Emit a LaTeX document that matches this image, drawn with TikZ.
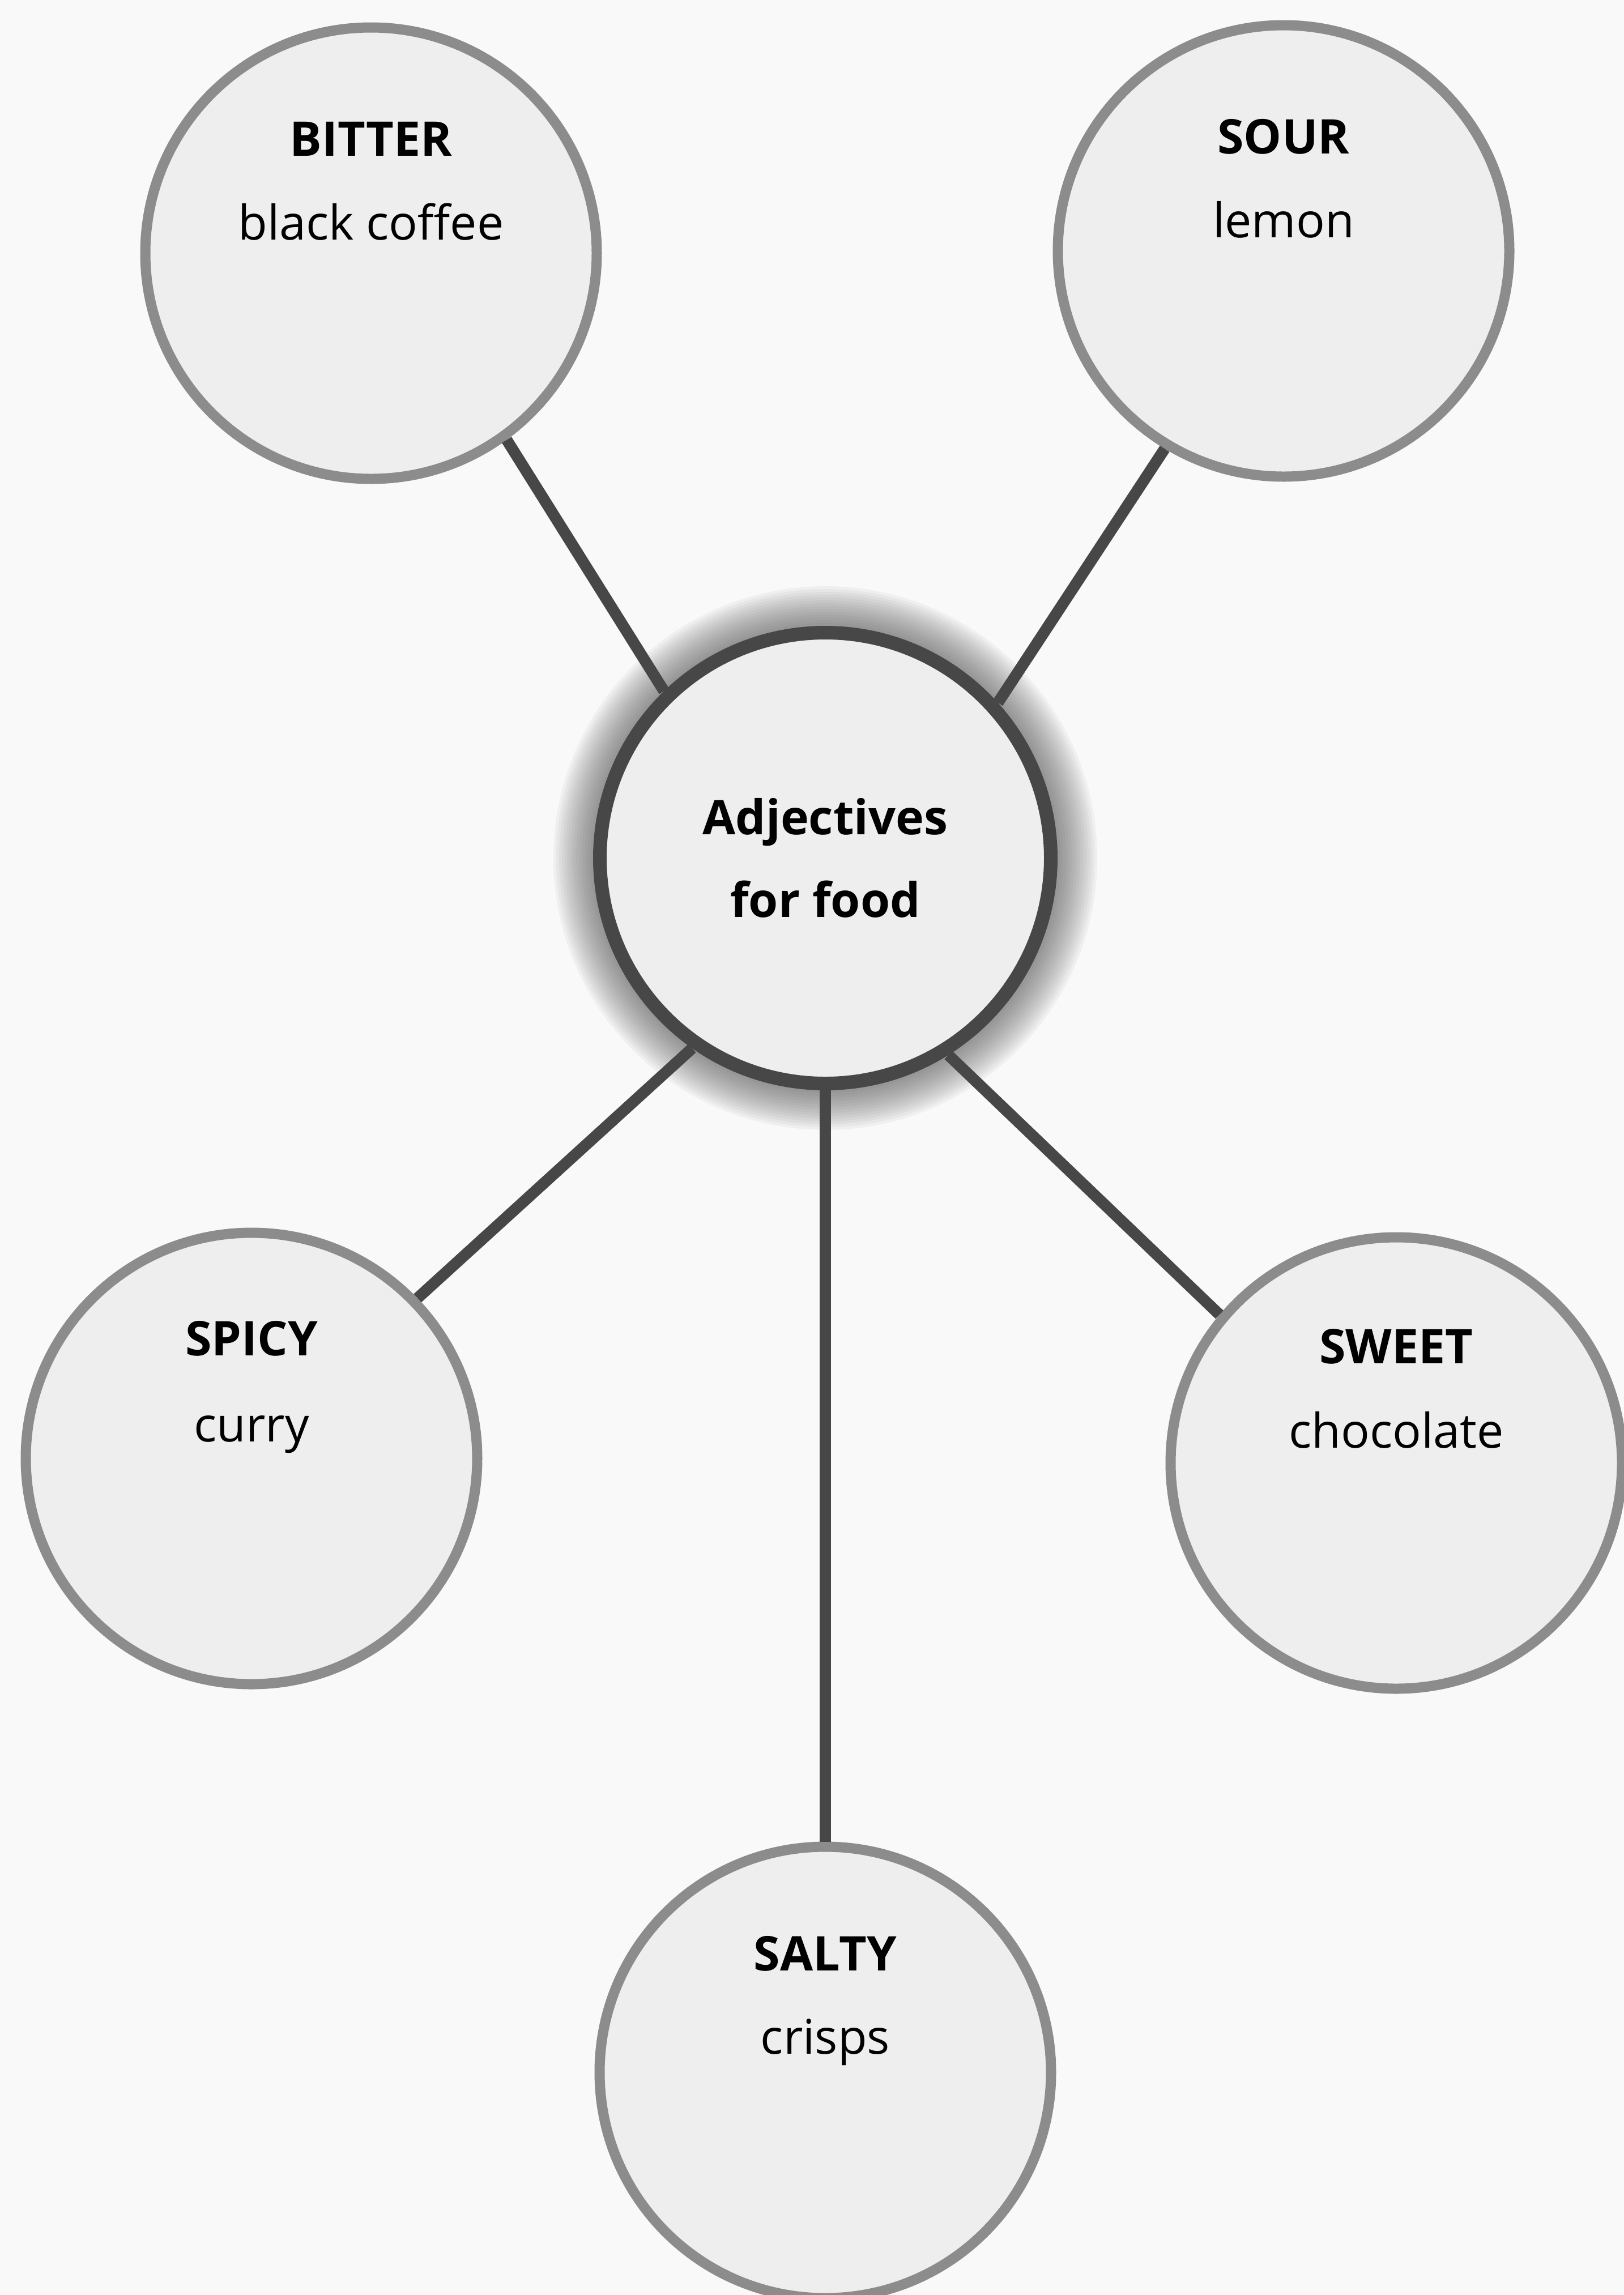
\documentclass[tikz,border=0pt]{standalone}
\usepackage{fontspec}
\setmainfont{Open Sans}

\definecolor{rim}{gray}{0.55}
\definecolor{ink}{gray}{0.28}
\definecolor{paper}{gray}{0.975}
\definecolor{disc}{gray}{0.935}

\tikzset{
  taste/.style={circle, draw=rim, fill=disc, line width=1.8mm, minimum size=7.97cm, inner sep=0pt},
  hubdisc/.style={circle, draw=ink, fill=disc, line width=2.4mm, minimum size=7.96cm, inner sep=0pt,
    align=center, font=\fontsize{24}{41.5}\selectfont\bfseries},
  head/.style={anchor=base, font=\fontsize{24}{28}\selectfont\bfseries},
  food/.style={anchor=base, font=\fontsize{24}{28}\selectfont},
  spoke/.style={draw=ink, line width=2mm}
}

\begin{document}
\begin{tikzpicture}
        % Page
        \path[use as bounding box, fill=paper] (0,0) rectangle (28.67,-40.52);

        % Glow round the middle circle
        \coordinate (hubpos) at (14.57,-15.15);
        \foreach \w in {1,...,14}
            \draw[ink, opacity=0.05, line width=\w mm] (hubpos) circle (4.1);

        % Middle circle
        \node[hubdisc] (hub) at (hubpos) {Adjectives\\for food};

        % BITTER
        \node[taste] (bitter) at (6.55,-4.47) {};
        \node[head] (bitter-h) at ([yshift=1.72cm]bitter.center) {BITTER};
        \node[food] (bitter-f) at ([yshift=0.24cm]bitter.center) {black coffee};

        % SOUR
        \node[taste] (sour) at (22.66,-4.43) {};
        \node[head] (sour-h) at ([yshift=1.72cm]sour.center) {SOUR};
        \node[food] (sour-f) at ([yshift=0.24cm]sour.center) {lemon};

        % SPICY
        \node[taste] (spicy) at (4.44,-25.75) {};
        \node[head] (spicy-h) at ([yshift=1.82cm]spicy.center) {SPICY};
        \node[food] (spicy-f) at ([yshift=0.3cm]spicy.center) {curry};

        % SWEET
        \node[taste] (sweet) at (24.65,-25.83) {};
        \node[head] (sweet-h) at ([yshift=1.76cm]sweet.center) {SWEET};
        \node[food] (sweet-f) at ([yshift=0.27cm]sweet.center) {chocolate};

        % SALTY
        \node[taste] (salty) at (14.57,-36.59) {};
        \node[head] (salty-h) at ([yshift=1.8cm]salty.center) {SALTY};
        \node[food] (salty-f) at ([yshift=0.33cm]salty.center) {crisps};

        % Spokes
        \draw[spoke] (bitter.306) -- (hub.134);
        \draw[spoke] (sour.239) -- (hub.42);
        \draw[spoke] (hub.235) -- (spicy.44);
        \draw[spoke] (hub.302) -- (sweet.140);
        \draw[spoke] (hub.south) -- (salty.north);
\end{tikzpicture}
\end{document}
